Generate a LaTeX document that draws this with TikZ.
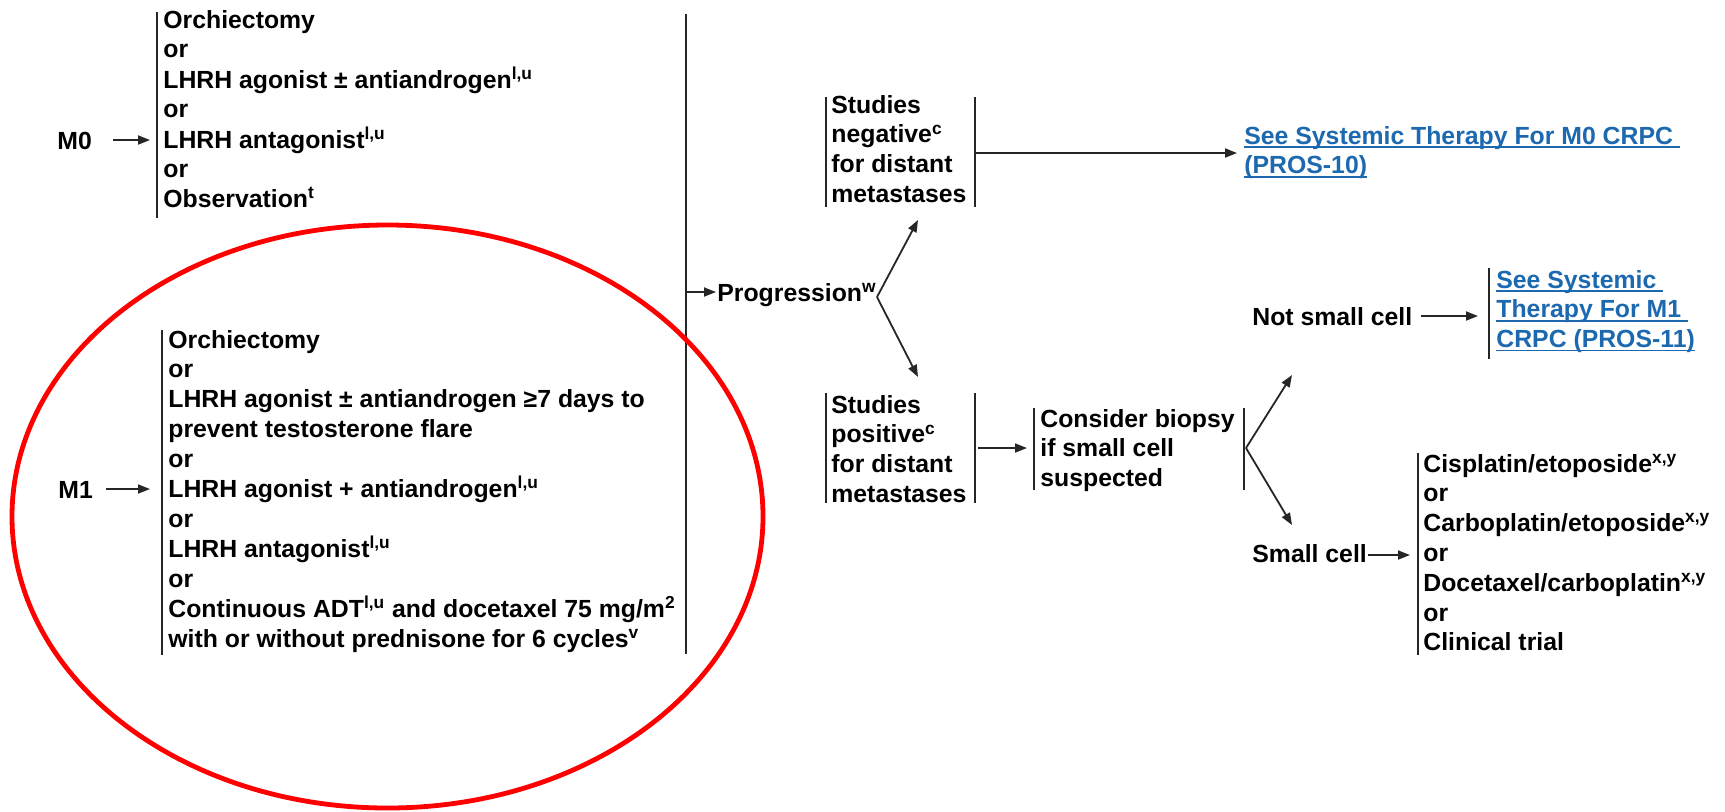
\documentclass[tikz,border=0pt]{standalone}
\usepackage{fontspec}
\setmainfont{Liberation Sans}
\usetikzlibrary{arrows.meta}
\definecolor{linkblue}{RGB}{28,105,175}
\newcommand\fs{\fontsize{12.4pt}{14.9pt}\selectfont\bfseries}
\newcommand\lnk[1]{\setbox0=\hbox{#1}\rlap{\rule[-1.9pt]{\wd0}{0.9pt}}\box0}
\newcommand\sus[1]{\textsuperscript{#1}}
\newcommand\stk[1]{\begin{tabular}[t]{@{}l@{}}#1\end{tabular}}
\tikzset{
  txt/.style={inner sep=0pt, anchor=base west, font=\fs, text=black},
  link/.style={txt, text=linkblue},
  br/.style={line width=0.9pt, draw=black!85},
  arr/.style={line width=0.9pt, draw=black!85, -{Triangle[length=6pt,width=4.5pt]}},
  ring/.style={draw=red, line width=2.4pt}
}
\begin{document}
\begin{tikzpicture}[x=0.5pt, y=-0.5pt]
\fill[white] (0,0) rectangle (1725,811);
\useasboundingbox (0,0) rectangle (1725,811);

% text nodes
\node[txt] (m0lab) at (57,149) {M0};
\node[txt] (m0opt) at (163,28) {\stk{Orchiectomy\\or\\LHRH agonist ± antiandrogen\sus{l,u}\\or\\LHRH antagonist\sus{l,u}\\or\\Observation\sus{t}}};
\node[txt] (m1lab) at (58,498) {M1};
\node[txt] (m1opt) at (168,348) {\stk{Orchiectomy\\or\\LHRH agonist ± antiandrogen ≥7 days to\\prevent testosterone flare\\or\\LHRH agonist + antiandrogen\sus{l,u}\\or\\LHRH antagonist\sus{l,u}\\or\\Continuous ADT\sus{l,u} and docetaxel 75 mg/m\sus{2}\\with or without prednisone for 6 cycles\sus{v}}};
\node[txt] (prog) at (717,301) {Progression\sus{w}};
\node[txt] (neg) at (831,113) {\stk{Studies\\negative\sus{c}\\for distant\\metastases}};
\node[txt] (pos) at (831,413) {\stk{Studies\\positive\sus{c}\\for distant\\metastases}};
\node[txt] (bio) at (1040,427) {\stk{Consider biopsy\\if small cell\\suspected}};
\node[link] (m0link) at (1244,144) {\stk{\lnk{See Systemic Therapy For M0 CRPC\ }\\\lnk{(PROS-10)}}};
\node[txt] (notsc) at (1252,325) {Not small cell};
\node[link] (m1link) at (1496,288) {\stk{\lnk{See Systemic\ }\\\lnk{Therapy For M1\ }\\\lnk{CRPC (PROS-11)}}};
\node[txt] (sc) at (1252,562) {Small cell};
\node[txt] (scopt) at (1423,472) {\stk{Cisplatin/etoposide\sus{x,y}\\or\\Carboplatin/etoposide\sus{x,y}\\or\\Docetaxel/carboplatin\sus{x,y}\\or\\Clinical trial}};

% brackets
\draw[br] (157,12) -- (157,218);
\draw[br] (162,330) -- (162,655);
\draw[br] (686,14) -- (686,654);
\draw[br] (826,97) -- (826,207);
\draw[br] (975,97) -- (975,207);
\draw[br] (826,393) -- (826,503);
\draw[br] (975,393) -- (975,503);
\draw[br] (1034,408) -- (1034,490);
\draw[br] (1244,408) -- (1244,490);
\draw[br] (1489,268) -- (1489,359);
\draw[br] (1418,453) -- (1418,655);

% connector end points
\coordinate (m0s) at (113,140);  \coordinate (m0e) at (150,140);
\coordinate (m1s) at (106,489);  \coordinate (m1e) at (150,489);
\coordinate (prs) at (686,292);  \coordinate (pre) at (716,292);
\coordinate (apex1) at (877,297);
\coordinate (negtip) at (918,220); \coordinate (postip) at (918,377);
\coordinate (negs) at (975,153); \coordinate (nege) at (1237,153);
\coordinate (poss) at (978,448); \coordinate (pose) at (1027,448);
\coordinate (apex2) at (1246,448);
\coordinate (nsctip) at (1292,375); \coordinate (sctip) at (1292,525);
\coordinate (nscs) at (1421,316); \coordinate (nsce) at (1478,316);
\coordinate (scs) at (1368,555); \coordinate (sce) at (1410,555);

% connectors
\draw[arr] (m0s) -- (m0e);
\draw[arr] (m1s) -- (m1e);
\draw[arr] (prs) -- (pre);
\draw[arr] (apex1) -- (negtip);
\draw[arr] (apex1) -- (postip);
\draw[arr] (negs) -- (nege);
\draw[arr] (poss) -- (pose);
\draw[arr] (apex2) -- (nsctip);
\draw[arr] (apex2) -- (sctip);
\draw[arr] (nscs) -- (nsce);
\draw[arr] (scs) -- (sce);

% red ellipse
\draw[ring] (387.5,516.5) ellipse [x radius=375.5, y radius=291.5];
\end{tikzpicture}
\end{document}
